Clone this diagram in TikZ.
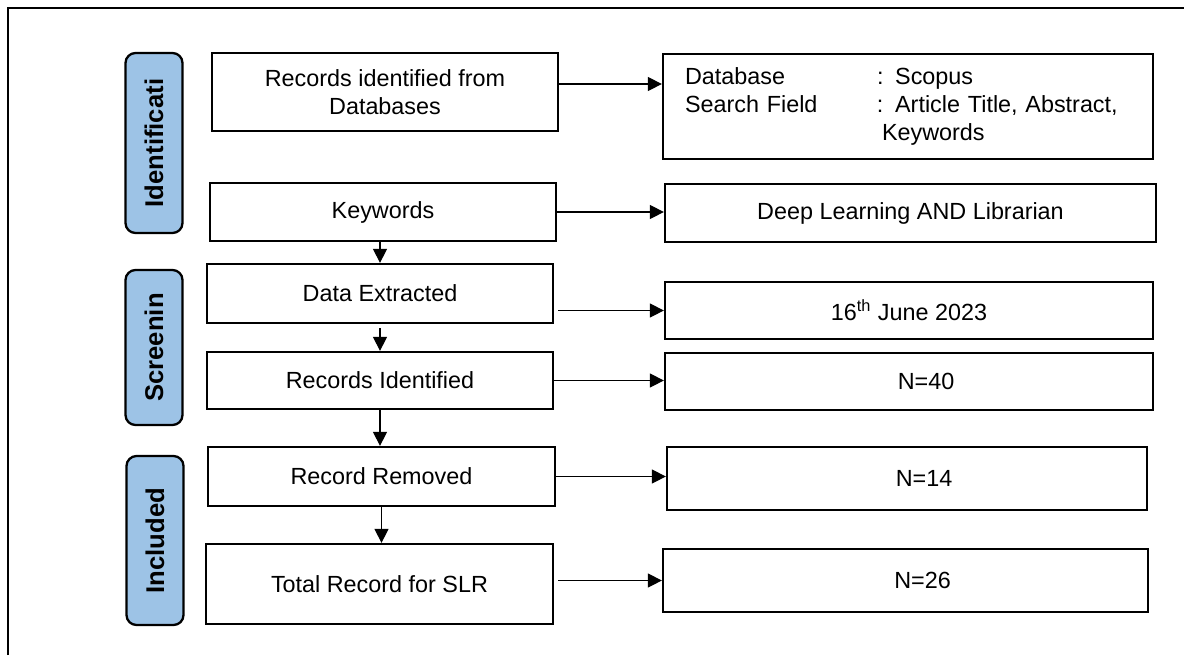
\documentclass[tikz,border=0pt]{standalone}
\usepackage{fontspec}
\setmainfont{Liberation Sans}
\usepackage{tikz}
\usetikzlibrary{arrows.meta}

\definecolor{stageblue}{RGB}{157,195,230}

\begin{document}
\begin{tikzpicture}[
    font=\fontsize{13.3}{16}\selectfont,
    stagebox/.style={draw, line width=1.3pt, rounded corners=0.2cm, fill=stageblue,
        minimum height=1.14cm, rotate=90, font=\fontsize{14.6}{17}\selectfont\bfseries},
    leftbox/.style={draw, line width=1.3pt, minimum width=6.92cm, align=center},
    rightbox/.style={draw, line width=1.3pt, minimum width=9.76cm, align=center},
    numbox/.style={draw, line width=1.3pt, minimum width=9.76cm,
        execute at begin node={\hspace*{0.68cm}}},
    arr/.style={line width=0.7pt, -{Triangle[length=0.28cm, width=0.28cm]}}
]
\useasboundingbox (0,0) rectangle (23.68,-13.1);

% Frame
\draw[line width=1.1pt] (0.16,-13.1) -- (0.16,-0.16) -- (23.68,-0.16);

% Stages
\node[stagebox, minimum width=3.6cm] (ident) at (3.08,-2.86) {Identificati};
\node[stagebox, minimum width=3.1cm] (screen) at (3.08,-6.95) {Screenin};
\node[stagebox, minimum width=3.38cm] (incl) at (3.1,-10.81) {Included};

% Left column
\node[leftbox, minimum height=1.56cm] (rdb) at (7.70,-1.84) {Records identified from\\Databases};
\node[leftbox, minimum height=1.16cm] (kw) at (7.66,-4.24) {Keywords};
\node[leftbox, minimum height=1.18cm] (dext) at (7.60,-5.87) {Data Extracted};
\node[leftbox, minimum height=1.14cm] (rident) at (7.60,-7.61) {Records Identified};
\node[leftbox, minimum height=1.18cm, minimum width=6.94cm] (rrem) at (7.63,-9.53) {Record Removed};
\node[leftbox, minimum height=1.60cm, minimum width=6.94cm] (total) at (7.59,-11.68) {Total Record for SLR};

% Right column
\node[rightbox, minimum width=9.8cm, minimum height=2.1cm, align=left,
      text width=8.92cm, inner xsep=0.44cm] (db) at (18.16,-2.13) {%
    \begin{tabular}{@{}p{3.84cm}@{}l@{}}
    Database & : Scopus\\
    Search Field & : Article Title, Abstract,\\
     & \hspace{0.1cm}Keywords
    \end{tabular}};
\node[rightbox, minimum width=9.82cm, minimum height=1.16cm] (dl) at (18.21,-4.26) {Deep Learning AND Librarian};
\node[rightbox, minimum height=1.14cm] (june) at (18.18,-6.21) {16\textsuperscript{th} June 2023};
\node[numbox, minimum height=1.14cm] (n40) at (18.18,-7.63) {N=40};
\node[numbox, minimum width=9.6cm, minimum height=1.26cm] (n14) at (18.14,-9.57) {N=14};
\node[numbox, minimum width=9.7cm, minimum height=1.26cm] (n26) at (18.11,-11.61) {N=26};

% Arrows down
\draw[arr] (kw.south -| dext.north) -- (dext.north);
\draw[arr, shorten <=0.08cm] (dext.south) -- (dext.south |- rident.north);
\draw[arr] (rident.south) -- (rident.south |- rrem.north);
\draw[arr] (rrem.south) -- (rrem.south |- total.north);

% Arrows across
\coordinate (dbin) at ([yshift=0.45cm]db.west);
\draw[arr] (rdb.east |- dbin) -- (dbin);
\draw[arr] (kw.east) -- (kw.east -| dl.west);
\draw[arr, shorten <=0.08cm] (dext.east |- june.west) -- (june.west);
\draw[arr] (rident.east) -- (rident.east -| n40.west);
\draw[arr] (rrem.east) -- (rrem.east -| n14.west);
\draw[arr, shorten <=0.08cm] (total.east |- n26.west) -- (n26.west);

\end{tikzpicture}
\end{document}
